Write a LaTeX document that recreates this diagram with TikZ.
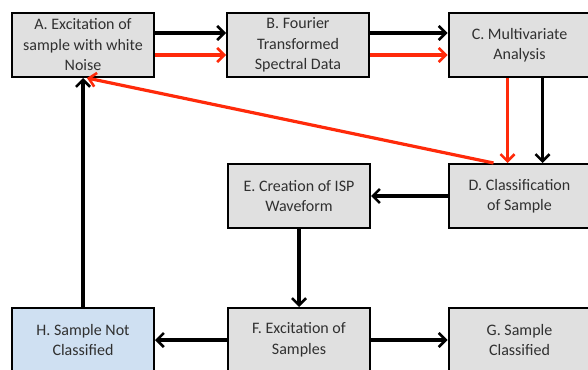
\documentclass[tikz,border=0pt]{standalone}
\usepackage{fontspec}
\setmainfont{Carlito}
\usetikzlibrary{arrows.meta}
\definecolor{boxgray}{HTML}{E0E0E0}
\definecolor{boxblue}{HTML}{CFE0F2}
\definecolor{redline}{HTML}{FF2A0A}
\definecolor{txt}{HTML}{303030}
\begin{document}
\begin{tikzpicture}[x=1pt,y=-1pt,
  box/.style={draw=black,line width=2pt,fill=boxgray,minimum width=142pt,minimum height=64pt,
    inner sep=0pt,align=center,font=\fontsize{16}{20.5}\selectfont,text=txt},
  conn/.style={line width=3.2pt,-{Straight Barb[length=7pt,width=14pt,line width=2.6pt]}},
  rconn/.style={conn,draw=redline}]
\useasboundingbox (0,0) rectangle (588,369);
\begin{scope}
\clip (0,0) rectangle (588,369);
\node[box] (A) at (83,45) {A. Excitation of\\sample with white\\Noise};
\node[box] (B) at (298,45) {B. Fourier\\Transformed\\Spectral Data};
\node[box] (C) at (519.5,45) {C. Multivariate\\Analysis};
\node[box] (D) at (519.5,196) {D. Classification\\of Sample};
\node[box] (E) at (299,196) {E. Creation of ISP\\Waveform};
\node[box] (F) at (299,340) {F. Excitation of\\Samples};
\node[box] (G) at (519.5,340) {G. Sample\\Classified};
\node[box,fill=boxblue] (H) at (83,340) {H. Sample Not\\Classified};
\end{scope}
\draw[conn] ([yshift=12pt]A.east) -- ([yshift=12pt]B.west);
\draw[rconn] ([yshift=-10pt]A.east) -- ([yshift=-10pt]B.west);
\draw[conn] ([yshift=12pt]B.east) -- ([yshift=12pt]C.west);
\draw[rconn] ([yshift=-10pt]B.east) -- ([yshift=-10pt]C.west);
\draw[rconn] ([xshift=-12pt]C.south) -- ([xshift=-12pt]D.north);
\draw[conn] ([xshift=23pt]C.south) -- ([xshift=23pt]D.north);
\draw[rconn] ([xshift=-26pt]D.north) -- ([xshift=4pt]A.south);
\draw[conn] (D.west) -- (E.east);
\draw[conn] (E.south) -- (F.north);
\draw[conn] (F.west) -- (H.east);
\draw[conn] (F.east) -- (G.west);
\draw[conn] (H.north) -- (A.south);
\end{tikzpicture}
\end{document}
